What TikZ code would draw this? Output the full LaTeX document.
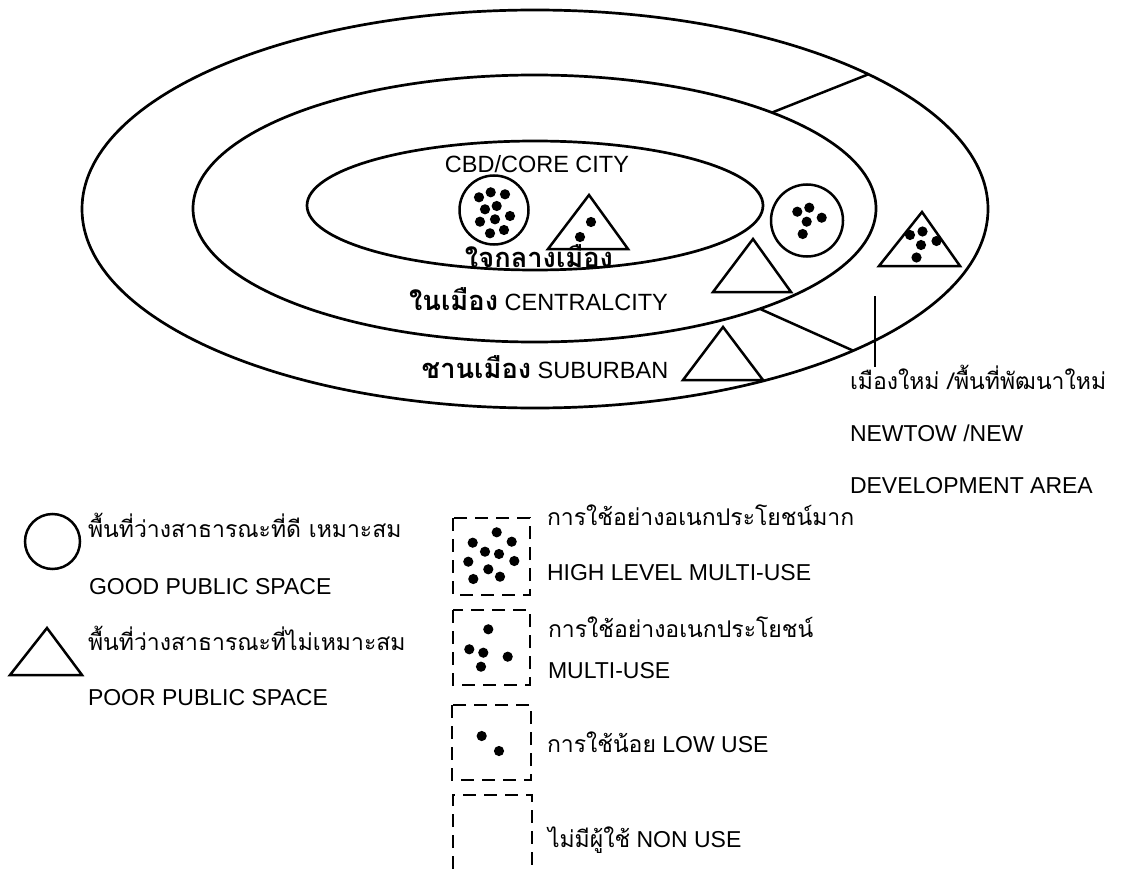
\documentclass[tikz,border=0pt]{standalone}
\usepackage{fontspec}
\setmainfont{Liberation Sans}
\newfontfamily\thai[Script=Thai,Scale=1.0]{Loma}
\newfontfamily\thaib[Script=Thai,Scale=1.16]{Loma}
\usetikzlibrary{shapes.geometric}
\begin{document}
\begin{tikzpicture}[x=1pt,y=-1pt,
  ring/.style={ellipse, draw, line width=2.7pt, inner sep=0pt, outer sep=0pt},
  conn/.style={line width=2.5pt},
  gsp/.style={circle, draw, line width=2.5pt, inner sep=0pt, outer sep=0pt},
  tri/.style={draw, line width=2.5pt, line join=miter},
  usebox/.style={draw, line width=1.9pt, dash pattern=on 13pt off 8pt},
  lbl/.style={inner sep=0pt, outer sep=0pt, font=\fontsize{23}{28}\selectfont},
  clbl/.style={inner sep=0pt, outer sep=0pt, font=\fontsize{23.5}{28}\selectfont},
  lead/.style={line width=1.3pt}]
\useasboundingbox (0,0) rectangle (1124,869);

% rings
\node[ring, minimum width=906pt, minimum height=398pt] (outer) at (535,209) {};
\node[ring, minimum width=683pt, minimum height=267pt] (middle) at (534.5,208.5) {};
\node[ring, minimum width=456pt, minimum height=129pt] (inner) at (535,205.5) {};
\draw[conn] (outer.22) -- (middle.22);
\draw[conn] (middle.-24) -- (outer.-24);

% good public spaces
\node[gsp, minimum size=69pt] (gs1) at (494,210) {};
\node[gsp, minimum size=72pt] (gs2) at (807,220.5) {};
\foreach \p in {(479,197.3),(490.7,192.3),(505,194.3),(485,209.3),(496.7,206),(510,216),(480,221.7),(495,219.3),(490,233.3),(504,230)}
  \fill \p circle[radius=5.1];
\foreach \p in {(797.3,211.7),(809.3,207.7),(821.7,217.7),(806.7,221.7),(802.7,234)}
  \fill \p circle[radius=5.1];

% poor public spaces
\draw[tri] (589,195) -- (628,249) -- (548,249) -- cycle;
\foreach \p in {(591,222),(580,237)} \fill \p circle[radius=5.1];
\draw[tri] (753,239) -- (791,292) -- (713,292) -- cycle;
\draw[tri] (922,212) -- (960,266) -- (879,266) -- cycle;
\foreach \p in {(910,235),(922.5,231.5),(936.5,241),(921,245),(916.5,257.5)} \fill \p circle[radius=5.1];
\draw[tri] (723,327) -- (763,380) -- (683,380) -- cycle;

% ring labels
\node[clbl, anchor=base] (cbd) at (537,173) {CBD/CORE CITY};
\node[clbl, anchor=base] (cbdth) at (539,267) {\thaib\bfseries ใจกลางเมือง};
\node[clbl, anchor=base] (central) at (538.5,310) {{\thaib\bfseries ในเมือง} CENTRALCITY};
\node[clbl, anchor=base] (suburb) at (545,378) {{\thaib\bfseries ชานเมือง} SUBURBAN};

% new town
\coordinate (ntTop) at (875,296);
\coordinate (ntBot) at (875,367);
\draw[lead] (ntTop) -- (ntBot);
\node[lbl, anchor=base west] (nt1) at (850,389) {\thai เมืองใหม่ /พื้นที่พัฒนาใหม่};
\node[lbl, anchor=base west] (nt2) at (850,441) {NEWTOW /NEW};
\node[lbl, anchor=base west] (nt3) at (850,493) {DEVELOPMENT AREA};

% legend: spaces
\node[gsp, minimum size=55pt] (legc) at (52.5,541.5) {};
\node[lbl, anchor=base west] (lg1) at (88,537) {\thai พื้นที่ว่างสาธารณะที่ดี เหมาะสม};
\node[lbl, anchor=base west] (lg2) at (89,594) {GOOD PUBLIC SPACE};
\draw[tri] (47,628) -- (82,675) -- (10,675) -- cycle;
\node[lbl, anchor=base west] (lg3) at (88,650) {\thai พื้นที่ว่างสาธารณะที่ไม่เหมาะสม};
\node[lbl, anchor=base west] (lg4) at (88,705) {POOR PUBLIC SPACE};

% legend: use levels
\draw[usebox] (453,518) rectangle (530,595);
\foreach \p in {(496.7,532.3),(472.7,542.7),(511.7,541.7),(485,551.7),(499,554),(468.3,561.7),(514.3,561),(488.3,569.3),(473.3,579),(500,576.7)}
  \fill \p circle[radius=5.1];
\node[lbl, anchor=base west] (u1) at (547,525) {\thai การใช้อย่างอเนกประโยชน์มาก};
\node[lbl, anchor=base west] (u2) at (547,580) {HIGH LEVEL MULTI-USE};

\draw[usebox] (453,610) rectangle (530,685);
\foreach \p in {(488.3,629.3),(469.3,649.3),(483.3,652.7),(507.7,656.7),(481,666.7)}
  \fill \p circle[radius=5.1];
\node[lbl, anchor=base west] (u3) at (548,637) {\thai การใช้อย่างอเนกประโยชน์};
\node[lbl, anchor=base west] (u4) at (548,678) {MULTI-USE};

\draw[usebox] (452,705) rectangle (531,780);
\foreach \p in {(481.7,736),(499,751)} \fill \p circle[radius=5.1];
\node[lbl, anchor=base west] (u5) at (547,752) {{\thai การใช้น้อย} LOW USE};

\draw[usebox] (453,869) -- (453,795) -- (532,795) -- (532,869);
\node[lbl, anchor=base west] (u6) at (548,847) {{\thai ไม่มีผู้ใช้} NON USE};
\end{tikzpicture}
\end{document}
